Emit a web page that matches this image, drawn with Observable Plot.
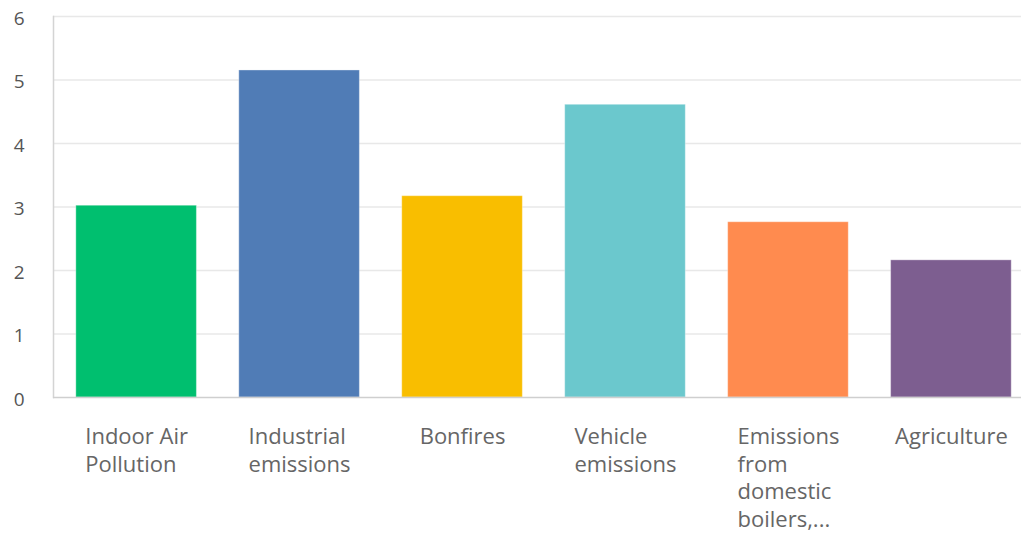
<!DOCTYPE html>
<html><head><meta charset="utf-8">
<script src="https://cdn.jsdelivr.net/npm/d3@7"></script>
<script src="https://cdn.jsdelivr.net/npm/@observablehq/plot@0.6"></script>
<style>body{margin:0;background:#fff;}</style>
</head><body><div id="chart"></div>
<script>
const categories = ["Indoor Air Pollution","Industrial emissions","Bonfires","Vehicle emissions","Emissions from domestic boilers,...","Agriculture"];
const labelLines = [["Indoor Air","Pollution"],["Industrial","emissions"],["Bonfires"],["Vehicle","emissions"],["Emissions","from","domestic","boilers,..."],["Agriculture"]];
const values = [3.02, 5.15, 3.17, 4.61, 2.76, 2.16];
const colors = ["#00BF6F","#507CB6","#F9BE00","#6BC8CD","#FF8B4F","#7D5E90"];
const yTicks = [0,1,2,3,4,5,6];

const data = categories.map((c,i)=>({cat:c, value:values[i], label:labelLines[i].join("\n"), lines:labelLines[i]}));

const labelSize = 22;
const ctx = document.createElement("canvas").getContext("2d");
ctx.font = `${labelSize}px 'Open Sans'`;
const halfWidth = d => Math.max(...d.lines.map(l=>ctx.measureText(l).width))/2;

const labelMarks = data.map(d => Plot.text([d], {
  x:"cat", text:"label", frameAnchor:"bottom", textAnchor:"start", lineAnchor:"top",
  dy: 27, dx: -halfWidth(d), fontSize: labelSize, lineHeight: 27.5/labelSize, fill:"#666"
}));

const chart = Plot.plot({
  width: 1023, height: 533,
  marginTop: 16, marginBottom: 136, marginLeft: 53, marginRight: 2,
  style: {fontFamily:"'Open Sans', sans-serif", color:"#555", background:"#fff"},
  x: {type:"band", domain: categories, paddingInner: 0.26, paddingOuter: 0.1, align: 0.7, round: false, axis: null},
  y: {domain:[0,6], axis: null},
  color: {domain: categories, range: colors},
  marks: [
    Plot.ruleY(yTicks.filter(d=>d>0), {stroke:"#e8e8e8", strokeWidth:1.5}),
    Plot.frame({anchor:"left", stroke:"#d4d4d4", strokeWidth:1.5}),
    Plot.barY(data, {x:"cat", y:"value", fill:"cat", stroke:"#fff", strokeOpacity:0.35}),
    Plot.ruleY([0], {stroke:"#cfcfcf", strokeWidth:1.5}),
    Plot.axisY({ticks: yTicks, tickFormat: d3.format("d"), tickSize:0, tickPadding:29, fontSize:19, dy:2, label:null}),
    ...labelMarks
  ]
});
document.getElementById("chart").append(chart);
</script>
</body></html>
